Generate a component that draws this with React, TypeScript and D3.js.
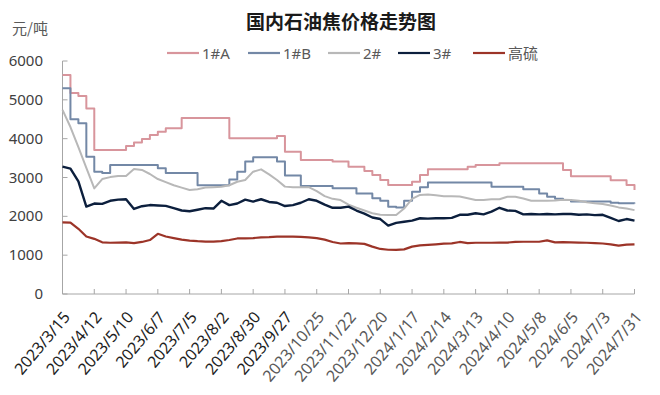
import React from "react";
import * as d3 from "d3";

const title = "国内石油焦价格走势图";
const unitLabel = "元/吨";
const tickLabels = [
  "2023/3/15", "2023/4/12", "2023/5/10", "2023/6/7", "2023/7/5", "2023/8/2",
  "2023/8/30", "2023/9/27", "2023/10/25", "2023/11/22", "2023/12/20", "2024/1/17",
  "2024/2/14", "2024/3/13", "2024/4/10", "2024/5/8", "2024/6/5", "2024/7/3", "2024/7/31",
];
const yTicks = [0, 1000, 2000, 3000, 4000, 5000, 6000];
const seriesNames = ["1#A", "1#B", "2#", "3#", "高硫"];

// weekly observations starting 2023/3/15
const s1A = [
  5640, 5175, 5100, 4780, 3710, 3710, 3710, 3710, 3810, 3900, 3990, 4095, 4180, 4270, 4270, 4530,
  4530, 4530, 4530, 4530, 4530, 4010, 4010, 4010, 4010, 4010, 4010, 4070, 3665, 3665, 3450, 3450,
  3450, 3450, 3410, 3410, 3280, 3280, 3170, 3065, 2935, 2805, 2805, 2805, 2890, 3065, 3215, 3215,
  3215, 3215, 3215, 3280, 3320, 3320, 3320, 3370, 3370, 3370, 3370, 3370, 3370, 3370, 3370, 3195,
  3030, 3030, 3030, 3030, 3030, 2930, 2930, 2805, 2680,
];
const s1B = [
  5300, 4500, 4400, 3535, 3150, 3115, 3320, 3320, 3320, 3320, 3320, 3320, 3240, 3115, 3115, 3115,
  3115, 2800, 2800, 2800, 2800, 2950, 3150, 3410, 3520, 3520, 3520, 3410, 3050, 3050, 2780, 2780,
  2780, 2780, 2720, 2720, 2720, 2590, 2590, 2465, 2400, 2250, 2230, 2400, 2635, 2750, 2870, 2870,
  2870, 2870, 2870, 2870, 2870, 2870, 2760, 2760, 2760, 2760, 2700, 2700, 2590, 2505, 2450, 2420,
  2380, 2380, 2380, 2380, 2380, 2350, 2335, 2335, 2330,
];
const s2 = [
  4740, 4300, 3780, 3250, 2720, 2960, 3010, 3040, 3040, 3220, 3195, 3090, 2960, 2880, 2800, 2740,
  2680, 2700, 2740, 2750, 2760, 2800, 2890, 2935, 3150, 3210, 3080, 2935, 2765, 2750, 2750, 2750,
  2650, 2520, 2450, 2420, 2300, 2220, 2150, 2080, 2040, 2035, 2035, 2200, 2450, 2550, 2560, 2540,
  2520, 2520, 2510, 2465, 2420, 2420, 2440, 2440, 2505, 2505, 2460, 2400, 2400, 2400, 2410, 2430,
  2420, 2400, 2360, 2335, 2320, 2280, 2230, 2200, 2160,
];
const s3 = [
  3280, 3230, 2900, 2250, 2330, 2320, 2400, 2430, 2440, 2190, 2260, 2290, 2280, 2270, 2210, 2150,
  2130, 2170, 2210, 2200, 2400, 2290, 2330, 2430, 2380, 2440, 2370, 2350, 2265, 2290, 2350, 2440,
  2400, 2300, 2220, 2220, 2250, 2150, 2070, 1970, 1930, 1760, 1830, 1860, 1890, 1950, 1940, 1950,
  1950, 1960, 2040, 2040, 2080, 2050, 2120, 2220, 2150, 2140, 2050, 2060, 2050, 2060, 2050, 2060,
  2060, 2040, 2050, 2030, 2040, 1960, 1880, 1930, 1890,
];
const sHS = [
  1845, 1840, 1680, 1480, 1420, 1330, 1320, 1325, 1330, 1310, 1340, 1390, 1550, 1480, 1440, 1400,
  1375, 1360, 1350, 1350, 1360, 1390, 1430, 1430, 1440, 1460, 1465, 1475, 1475, 1475, 1470, 1460,
  1440, 1400, 1340, 1300, 1310, 1305, 1290, 1220, 1160, 1140, 1135, 1150, 1220, 1250, 1265, 1280,
  1295, 1305, 1340, 1310, 1320, 1320, 1320, 1325, 1325, 1340, 1345, 1345, 1345, 1380, 1330, 1335,
  1330, 1325, 1320, 1310, 1300, 1280, 1245, 1270, 1280,
];

const colors = ["#d8959c", "#7388a6", "#b8b8b8", "#0c1f3d", "#9c3428"];
const widths = [2, 2, 2, 2.4, 2.2];
const curves = [d3.curveStepAfter, d3.curveStepAfter, d3.curveLinear, d3.curveLinear, d3.curveLinear];
const allSeries = [s1A, s1B, s2, s3, sHS];

const parseLabel = (s: string) => {
  const [yy, mm, dd] = s.split("/").map(Number);
  return new Date(yy, mm - 1, dd);
};

export default function App() {
  const W = 660, H = 395;
  const tickDates = tickLabels.map(parseLabel);
  const start = tickDates[0];
  const end = tickDates[tickDates.length - 1];
  const x = d3.scaleTime().domain([start, end]).range([62.5, 634.5]);
  const y = d3.scaleLinear().domain([0, 6000]).range([294, 61]);
  const dates = s1A.map((_, i) => d3.timeDay.offset(start, i * 7));

  const font = "'Noto Sans', 'Noto Sans CJK SC', sans-serif";
  const legendX = [167, 248, 328, 398, 473];

  return (
    <svg width={W} height={H} style={{ position: "absolute", left: 0, top: 0, background: "#fff" }} fontFamily={font}>
      <text x={341} y={29} textAnchor="middle" fontSize={19} fontWeight={600} fill="#1a1a1a"
        fontFamily="'Noto Sans CJK SC', sans-serif">{title}</text>
      <text x={12} y={34} fontSize={15} fill="#595959" fontFamily="'Noto Sans CJK SC', sans-serif">{unitLabel}</text>

      {seriesNames.map((n, i) => (
        <g key={n} transform={`translate(${legendX[i]},53)`}>
          <line x1={0} x2={32} y1={0} y2={0} stroke={colors[i]} strokeWidth={2.2} />
          <text x={35} y={5.5} fontSize={15} fill="#595959" fontFamily="'Noto Sans', 'Noto Sans CJK SC', sans-serif">{n}</text>
        </g>
      ))}

      {/* y axis */}
      <line x1={x.range()[0]} x2={x.range()[0]} y1={y(6000)} y2={y(0)} stroke="#a6a6a6" strokeWidth={1} />
      {yTicks.map((t) => (
        <g key={t}>
          <line x1={x.range()[0]} x2={x.range()[0] + 5} y1={y(t)} y2={y(t)} stroke="#a6a6a6" />
          <text x={43} y={y(t) + 5} textAnchor="end" fontSize={15} fill="#404040">{t}</text>
        </g>
      ))}

      {/* x axis */}
      <line x1={x.range()[0]} x2={x.range()[1]} y1={y(0)} y2={y(0)} stroke="#a6a6a6" strokeWidth={1} />
      {tickDates.map((d, i) => (
        <g key={i}>
          <line x1={x(d)} x2={x(d)} y1={y(0)} y2={y(0) - 5} stroke="#a6a6a6" />
          <text
            transform={`translate(${x(d) + 4},${y(0) + 20}) rotate(-50)`}
            textAnchor="end"
            dy="0.35em"
            fontSize={16}
            fill={i < 8 ? "#1f1f1f" : "#595959"}
          >
            {tickLabels[i]}
          </text>
        </g>
      ))}

      {allSeries.map((s, i) => {
        const line = d3
          .line<number>()
          .x((_, j) => x(dates[j]))
          .y((v) => y(v))
          .curve(curves[i]);
        return (
          <path key={i} d={line(s) || ""} fill="none" stroke={colors[i]} strokeWidth={widths[i]} strokeLinejoin="round" />
        );
      })}
    </svg>
  );
}
